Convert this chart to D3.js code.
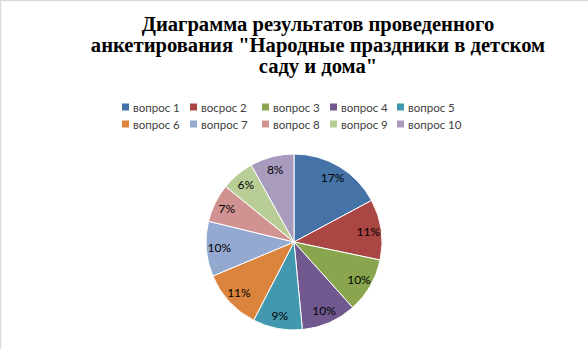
<!DOCTYPE html>
<html>
<head>
<meta charset="utf-8">
<script src="https://cdn.jsdelivr.net/npm/d3@7"></script>
<style>
  html, body { margin: 0; padding: 0; background: #fff; }
  svg { display: block; }
</style>
</head>
<body>
<svg id="chart" width="588" height="349"></svg>
<script>
// Survey results: share of answers per question
const titleLines = [
  "Диаграмма результатов проведенного",
  "анкетирования \"Народные праздники в детском",
  "саду и дома\""
];
const categories = ["вопрос 1", "восрос 2", "вопрос 3", "вопрос 4", "вопрос 5",
                    "вопрос 6", "вопрос 7", "вопрос 8", "вопрос 9", "вопрос 10"];
const values = [17, 11, 10, 10, 9, 11, 10, 7, 6, 8];
const colors = ["#4572A7", "#AA4643", "#89A54E", "#71588F", "#4198AF",
                "#DB843D", "#93A9CF", "#D19392", "#B9CD96", "#A99BBD"];

const svg = d3.select("#chart");
const W = 588, H = 349;

// chart area frame
svg.append("rect")
  .attr("x", 0.5).attr("y", 0.5)
  .attr("width", W + 10).attr("height", H + 10)
  .attr("fill", "#fff")
  .attr("stroke", "#d9d9d9").attr("stroke-width", 1.5);

// title
const title = svg.append("text")
  .attr("text-anchor", "middle")
  .attr("font-family", "'Liberation Serif', 'Times New Roman', serif")
  .attr("font-weight", "bold")
  .attr("font-size", 20.6)
  .attr("fill", "#000");
titleLines.forEach((t, i) => {
  title.append("tspan")
    .attr("x", 318)
    .attr("y", 31 + i * 21)
    .text(t);
});

// legend: two rows of five
const legendX = d3.scaleOrdinal().domain(d3.range(5)).range([122, 190, 262, 330, 397]);
const legendY = d3.scaleOrdinal().domain([0, 1]).range([107, 124]);
const legend = svg.append("g")
  .attr("font-family", "Lato, 'Open Sans', sans-serif")
  .attr("font-size", 11.5)
  .attr("fill", "#404040");
categories.forEach((c, i) => {
  const col = i % 5, row = Math.floor(i / 5);
  const g = legend.append("g")
    .attr("transform", `translate(${legendX(col)},${legendY(row)})`);
  g.append("rect")
    .attr("x", 0).attr("y", -3.5)
    .attr("width", 7).attr("height", 7)
    .attr("fill", colors[i]);
  g.append("text")
    .attr("x", 11).attr("y", 0)
    .attr("dominant-baseline", "central")
    .text(c);
});

// pie
const cx = 294, cy = 242, r = 88;
const pie = d3.pie().sort(null).value(d => d);
const arcs = pie(values);
const arc = d3.arc().innerRadius(0).outerRadius(r);
const labelArc = d3.arc().innerRadius(75).outerRadius(75);

const g = svg.append("g").attr("transform", `translate(${cx},${cy})`);
g.selectAll("path")
  .data(arcs)
  .join("path")
  .attr("d", arc)
  .attr("fill", (d, i) => colors[i])
  .attr("stroke", "#fff")
  .attr("stroke-width", 1);

g.selectAll("text.pct")
  .data(arcs)
  .join("text")
  .attr("class", "pct")
  .attr("transform", d => `translate(${labelArc.centroid(d)})`)
  .attr("text-anchor", "middle")
  .attr("dominant-baseline", "central")
  .attr("font-family", "Lato, 'Open Sans', sans-serif")
  .attr("font-size", 12)
  .attr("fill", "#000")
  .text(d => d.data + "%");
</script>
</body>
</html>
